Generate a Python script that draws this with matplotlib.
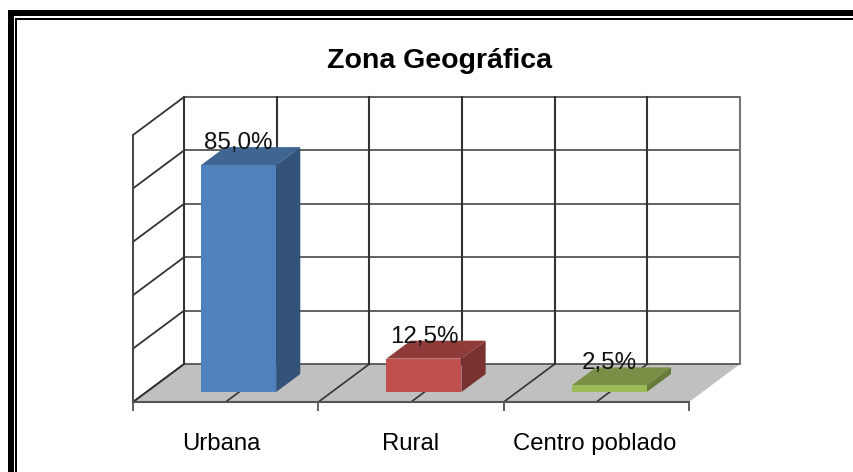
import matplotlib
matplotlib.use('Agg')
import numpy as np
import matplotlib.pyplot as plt
from matplotlib.patches import Polygon, Rectangle

categories = ['Urbana', 'Rural', 'Centro poblado']
values = [85.0, 12.5, 2.5]
labels = ['85,0%', '12,5%', '2,5%']
grid_values = [0, 20, 40, 60, 80, 100]

front_colors = ['#4F81BD', '#C0504D', '#9BBB59']
top_colors = ['#3F6593', '#8E3B39', '#788F45']
side_colors = ['#335379', '#7A3230', '#677B3B']

W, H = 854, 472
# one depth unit moves 0.275 categories to the right and 14.2 % up
DX, DY = 0.275, 14.2

plt.rcParams['font.family'] = ['Liberation Sans', 'DejaVu Sans']


def px(x, y, d=0.0):
    return (x + d * DX, y + d * DY)


fig = plt.figure(figsize=(W / 100, H / 100), dpi=100, facecolor='white')

# double border, only top and left are in the picture
bg = fig.add_axes([0, 0, 1, 1])
bg.set_xlim(0, W)
bg.set_ylim(H, 0)
bg.axis('off')
bg.add_patch(Rectangle((8, 10), W, 6, color='black', lw=0))
bg.add_patch(Rectangle((8, 10), 6, H, color='black', lw=0))
bg.add_patch(Rectangle((15, 18), W, 2, color='black', lw=0))
bg.add_patch(Rectangle((15, 18), 2, H, color='black', lw=0))
bg.text(439.5, 61, 'Zona Geográfica', ha='center', va='center', fontsize=20.5, fontweight='bold', color='black')

# axes is the front plane of the 3d box
ax = fig.add_axes([133 / W, (H - 402) / H, 556 / W, 267 / H])
ax.set_xlim(0, 3)
ax.set_ylim(0, 100)
ax.patch.set_alpha(0)
for s in ['top', 'left', 'right']:
    ax.spines[s].set_visible(False)
ax.spines['bottom'].set_color('#555555')
ax.spines['bottom'].set_linewidth(1.5)
ax.spines['bottom'].set_zorder(2)

ax.set_yticks([])
ax.set_xticks([0, 1, 2, 3])
ax.set_xticklabels([])
ax.tick_params(axis='x', which='major', length=6.5, width=1.2, color='#444444')
# labels sit a little off centre in the original
ax.set_xticks([0.476, 1.497, 2.49], minor=True)
ax.set_xticklabels(categories, minor=True, fontsize=17.2)
ax.tick_params(axis='x', which='minor', length=0, pad=22)

# floor
floor = [px(0, 0), px(3, 0), px(3, 0, 1), px(0, 0, 1)]
ax.add_patch(Polygon(floor, closed=True, facecolor='#C0C0C0', edgecolor='none', clip_on=False, zorder=1))

# walls
for v in grid_values:
    x0, y0 = px(0, v)
    x1, y1 = px(0, v, 1)
    x2, y2 = px(3, v, 1)
    ax.plot([x1, x2], [y1, y2], color='#555555', lw=1.3, clip_on=False, zorder=1.5)
    ax.plot([x0, x1], [y0, y1], color='#333333', lw=1.3, clip_on=False, zorder=1.5)
ax.plot([0, 0], [0, 100], color='#444444', lw=1.4, clip_on=False, zorder=1.5)

for k in np.arange(0, 3.5, 0.5):
    x1, y1 = px(k, 0, 1)
    x2, y2 = px(k, 100, 1)
    ax.plot([x1, x2], [y1, y2], color='#777777' if k == 3 else '#333333', lw=1.5, clip_on=False, zorder=1.5)
    if k < 3:
        x0, y0 = px(k, 0)
        ax.plot([x0, x1], [y0, y1], color='#333333', lw=1.2, clip_on=False, zorder=1.5)

# bars
bw = 0.405
d0, d1 = 0.263, 0.737
for i, v in enumerate(values):
    xa = i + 0.295
    xb = xa + bw
    ax.add_patch(Polygon([px(xa, v, d0), px(xb, v, d0), px(xb, v, d1), px(xa, v, d1)],
                         closed=True, facecolor=top_colors[i], edgecolor='none', clip_on=False, zorder=3))
    ax.add_patch(Polygon([px(xb, 0, d0), px(xb, 0, d1), px(xb, v, d1), px(xb, v, d0)],
                         closed=True, facecolor=side_colors[i], edgecolor='none', clip_on=False, zorder=3))
    ax.add_patch(Polygon([px(xa, 0, d0), px(xb, 0, d0), px(xb, v, d0), px(xa, v, d0)],
                         closed=True, facecolor=front_colors[i], edgecolor='none', clip_on=False, zorder=3))
    ax.text(i + 0.57, v + 12.0, labels[i], ha='center', va='center', fontsize=17.4, color='#111111',
            clip_on=False, zorder=4)

fig.savefig('out.png', dpi=100)
